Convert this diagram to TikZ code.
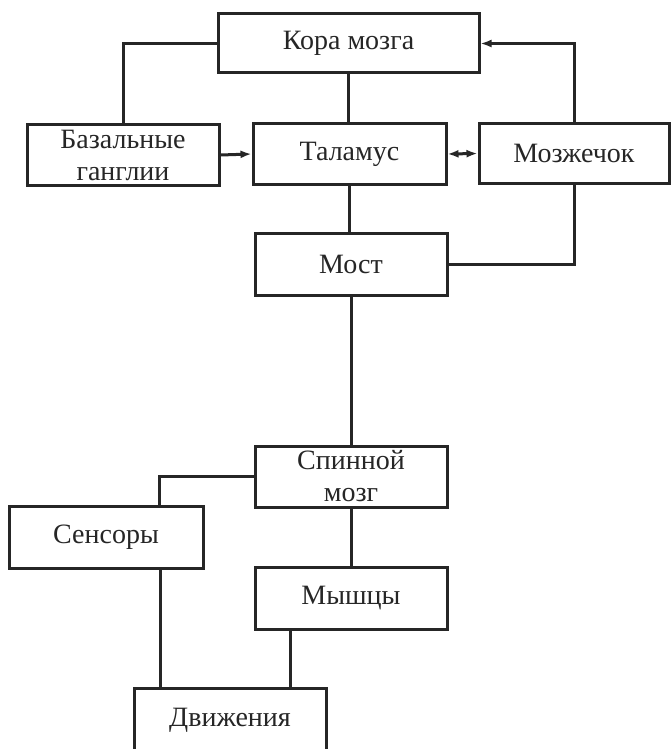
\documentclass[tikz,border=0pt]{standalone}
\usepackage{fontspec}
\setmainfont{Liberation Serif}
\usetikzlibrary{arrows.meta}
\begin{document}
\begin{tikzpicture}[x=1pt,y=-1pt,
  box/.style={draw=black!85, line width=3pt, rectangle, inner sep=0pt, align=center,
    font=\fontsize{28}{32}\selectfont, text=black!85},
  link/.style={draw=black!85, line width=3pt},
  tip/.tip={Latex[length=11pt,width=8pt]},
  arr/.style={link, -tip},
  arrb/.style={link, tip-tip}]
\useasboundingbox[fill=white] (0,0) rectangle (671,749);
\node[box, minimum width=261pt, minimum height=59pt] (kora) at (348.5,43.5) {Кора мозга};
\node[box, minimum width=192pt, minimum height=61pt] (base) at (123,155) {Базальные\\ганглии};
\node[box, minimum width=193pt, minimum height=61pt] (tal) at (349.5,154) {Таламус};
\node[box, minimum width=190pt, minimum height=60pt] (moz) at (574,153.5) {Мозжечок};
\node[box, minimum width=192pt, minimum height=62pt] (most) at (351,264) {Мост};
\node[box, minimum width=192pt, minimum height=61pt] (spin) at (351,476.5) {Спинной\\мозг};
\node[box, minimum width=194pt, minimum height=62pt] (sens) at (106,537) {Сенсоры};
\node[box, minimum width=192pt, minimum height=62pt] (mysh) at (351,598) {Мышцы};
\node[box, minimum width=192pt, minimum height=64pt] (dvizh) at (230,720) {Движения};
\draw[link] (kora.west) -| (base.north);
\draw[link] (kora.south) -- (kora.south |- tal.north);
\draw[arr] (moz.north) |- (kora.east);
\draw[arr] (base.east) -- (tal.west);
\draw[arrb] (tal.east) -- (moz.west);
\draw[link] (tal.south) -- (tal.south |- most.north);
\draw[link] (moz.south) |- (most.east);
\draw[link] (most.south) -- (spin.north);
\draw[link] (spin.west) -| ([xshift=53pt]sens.north);
\draw[link] (spin.south) -- (mysh.north);
\draw[link] ([xshift=54pt]sens.south) -- ([xshift=54pt]sens.south |- dvizh.north);
\draw[link] ([xshift=-61pt]mysh.south) -- ([xshift=-61pt]mysh.south |- dvizh.north);
\end{tikzpicture}
\end{document}
